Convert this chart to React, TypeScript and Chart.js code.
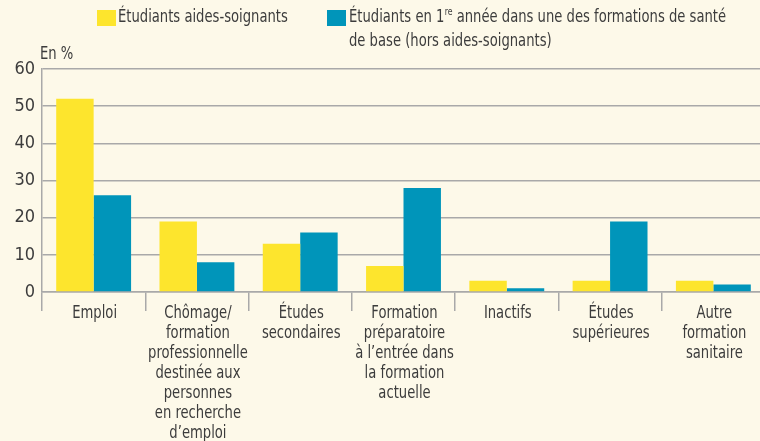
import React, { useEffect, useRef } from "react";
import { Chart, registerables } from "chart.js";

Chart.register(...registerables);

const categories: string[][] = [
  ["Emploi"],
  ["Chômage/", "formation", "professionnelle", "destinée aux", "personnes", "en recherche", "d’emploi"],
  ["Études", "secondaires"],
  ["Formation", "préparatoire", "à l’entrée dans", "la formation", "actuelle"],
  ["Inactifs"],
  ["Études", "supérieures"],
  ["Autre", "formation", "sanitaire"],
];

const aidesSoignants = [52, 19, 13, 7, 3, 3, 3];
const autresFormations = [26, 8, 16, 28, 1, 19, 2];

const seriesLabels = [
  "Étudiants aides-soignants",
  "Étudiants en 1re année dans une des formations de santé de base (hors aides-soignants)",
];

const FONT = '"DejaVu Sans Condensed", "Liberation Sans", sans-serif';
const TEXT = "#3c3c3c";
const GRID = "#a9a9a9";
const YELLOW = "#fde52d";
const TEAL = "#0095ba";
const BG = "#fdf9e9";
const SQUEEZE = 0.86;

function squeezedText(ctx: CanvasRenderingContext2D, text: string, x: number, y: number) {
  ctx.save();
  ctx.translate(x, y);
  ctx.scale(SQUEEZE, 1);
  ctx.fillText(text, 0, 0);
  ctx.restore();
}

const textPlugin = {
  id: "customText",
  afterDraw(chart: any) {
    const ctx = chart.ctx as CanvasRenderingContext2D;
    ctx.save();
    ctx.textBaseline = "middle";
    ctx.fillStyle = TEXT;
    ctx.font = `17px ${FONT}`;

    // x category labels
    ctx.textAlign = "center";
    const xs = chart.scales.x;
    categories.forEach((lines, i) => {
      const cx = xs.getPixelForTick(i) + 1;
      lines.forEach((ln, k) => squeezedText(ctx, ln, cx, 314 + k * 20));
    });

    ctx.textAlign = "left";
    squeezedText(ctx, "En %", 40, 55);

    ctx.fillStyle = YELLOW;
    ctx.fillRect(97, 10, 19, 16);
    ctx.fillStyle = TEXT;
    squeezedText(ctx, seriesLabels[0], 118, 18);

    ctx.fillStyle = TEAL;
    ctx.fillRect(327, 10, 19, 16);
    ctx.fillStyle = TEXT;
    ctx.save();
    ctx.translate(349, 0);
    ctx.scale(SQUEEZE, 1);
    let x = 0;
    const p1 = "Étudiants en 1";
    ctx.fillText(p1, x, 18);
    x += ctx.measureText(p1).width;
    ctx.font = `10px ${FONT}`;
    ctx.fillText("re", x + 0.5, 12);
    x += ctx.measureText("re").width + 0.5;
    ctx.font = `17px ${FONT}`;
    ctx.fillText(" année dans une des formations de santé", x, 18);
    ctx.fillText("de base (hors aides-soignants)", 0, 42);
    ctx.restore();
    ctx.restore();
  },
};

export default function App() {
  const ref = useRef<HTMLCanvasElement>(null);
  useEffect(() => {
    if (!ref.current) return;
    const chart = new Chart(ref.current, {
      type: "bar",
      data: {
        labels: categories.map((c) => c.join(" ")),
        datasets: [
          {
            label: seriesLabels[0],
            data: aidesSoignants,
            backgroundColor: YELLOW,
            borderWidth: 0,
            categoryPercentage: 0.725,
            barPercentage: 1,
          },
          {
            label: seriesLabels[1],
            data: autresFormations,
            backgroundColor: TEAL,
            borderWidth: 0,
            categoryPercentage: 0.725,
            barPercentage: 1,
          },
        ],
      },
      options: {
        animation: false,
        responsive: true,
        maintainAspectRatio: false,
        layout: { padding: { top: 69, left: 0, right: 0, bottom: 0 } },
        plugins: { legend: { display: false }, tooltip: { enabled: false } },
        scales: {
          x: {
            grid: {
              offset: true,
              drawOnChartArea: false,
              color: GRID,
              lineWidth: 1.5,
              tickLength: 19,
            },
            border: { color: GRID, width: 1.5 },
            ticks: { display: false, autoSkip: false, maxRotation: 0 },
            afterFit: (s: any) => {
              s.height = 149;
            },
          },
          y: {
            min: 0,
            max: 60,
            ticks: {
              stepSize: 10,
              padding: 7,
              font: { family: FONT, size: 18 },
              color: TEXT,
            },
            grid: { color: GRID, lineWidth: 1.5, drawTicks: false },
            border: { color: GRID, width: 1.5 },
            afterFit: (s: any) => {
              s.width = 42;
            },
          },
        },
      },
      plugins: [textPlugin],
    });
    return () => chart.destroy();
  }, []);

  return (
    <div
      style={{
        position: "absolute",
        left: 0,
        top: 0,
        width: 760,
        height: 441,
        overflow: "hidden",
        background: BG,
      }}
    >
      <div style={{ position: "relative", width: 765, height: 441 }}>
        <canvas ref={ref} />
      </div>
    </div>
  );
}
